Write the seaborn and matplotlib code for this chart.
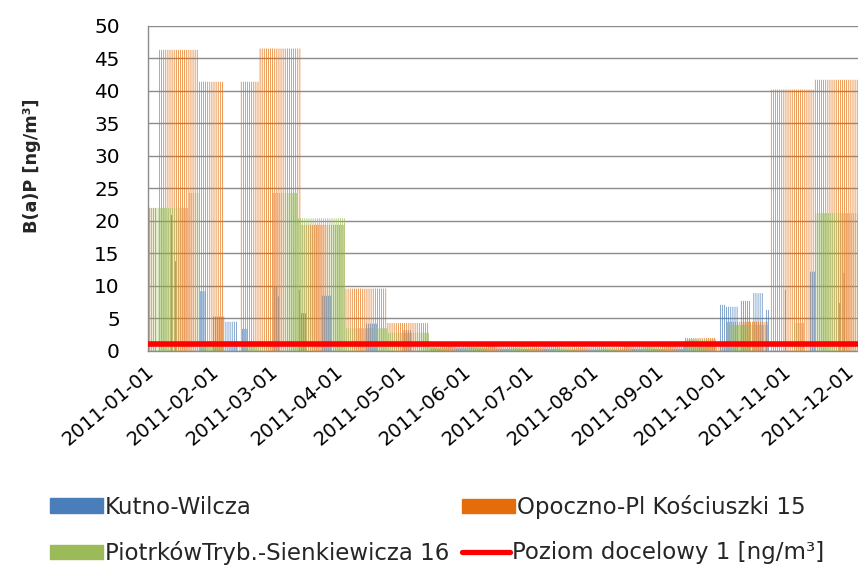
import pandas as pd
import matplotlib
matplotlib.use("Agg")
import matplotlib.pyplot as plt
import matplotlib.transforms as mtransforms
from matplotlib.patches import Patch
from matplotlib.lines import Line2D
import seaborn as sns

# B(a)P results per station: sampling periods (start, end inclusive) and value [ng/m3]
kutno_start = ["2011-01-12", "2011-01-14", "2011-01-26", "2011-02-01", "2011-02-07", "2011-02-15",
               "2011-03-02", "2011-03-04", "2011-03-14", "2011-03-15", "2011-03-25", "2011-04-15",
               "2011-05-03", "2011-05-16", "2011-06-16", "2011-07-16", "2011-08-16", "2011-09-14",
               "2011-10-01", "2011-10-04", "2011-10-11", "2011-10-17", "2011-10-23", "2011-11-01",
               "2011-11-13", "2011-11-27", "2011-11-29"]
kutno_end = ["2011-01-12", "2011-01-14", "2011-01-28", "2011-02-06", "2011-02-12", "2011-02-17",
             "2011-03-03", "2011-03-04", "2011-03-14", "2011-03-17", "2011-03-29", "2011-04-20",
             "2011-05-06", "2011-06-15", "2011-07-15", "2011-08-15", "2011-09-13", "2011-09-28",
             "2011-10-03", "2011-10-09", "2011-10-15", "2011-10-21", "2011-10-24", "2011-11-01",
             "2011-11-15", "2011-11-27", "2011-11-29"]
kutno_value = [20.9, 13.8, 9.2, 5.3, 4.5, 3.4,
               9.9, 8.4, 9.4, 5.8, 8.5, 4.2,
               3.2, 0.4, 0.3, 0.2, 0.3, 1.2,
               7.1, 6.8, 7.7, 8.9, 6.3, 9.4,
               12.2, 7.4, 12.0]

opoczno_start = ["2011-01-01", "2011-01-06", "2011-01-25", "2011-02-14", "2011-02-23", "2011-03-15",
                 "2011-04-05", "2011-04-25", "2011-05-15", "2011-06-16", "2011-07-16", "2011-08-16",
                 "2011-09-14", "2011-09-29", "2011-10-04", "2011-10-25", "2011-11-15"]
opoczno_end = ["2011-01-04", "2011-01-24", "2011-02-05", "2011-02-22", "2011-03-14", "2011-04-04",
               "2011-04-24", "2011-05-14", "2011-06-15", "2011-07-15", "2011-08-15", "2011-09-13",
               "2011-09-28", "2011-10-03", "2011-10-23", "2011-11-14", "2011-12-15"]
opoczno_value = [22.0, 46.3, 41.4, 41.4, 46.5, 19.4,
                 9.6, 4.3, 0.9, 0.7, 0.6, 0.8,
                 2.0, 1.2, 4.5, 40.2, 41.7]

piotrkow_start = ["2011-01-01", "2011-01-20", "2011-01-25", "2011-03-01", "2011-03-13", "2011-04-05",
                  "2011-04-25", "2011-05-15", "2011-06-16", "2011-07-16", "2011-08-16", "2011-09-14",
                  "2011-10-04", "2011-11-05", "2011-11-15"]
piotrkow_end = ["2011-01-19", "2011-01-24", "2011-02-28", "2011-03-12", "2011-04-04", "2011-04-24",
                "2011-05-14", "2011-06-15", "2011-07-15", "2011-08-15", "2011-09-13", "2011-09-28",
                "2011-10-23", "2011-11-09", "2011-12-15"]
piotrkow_value = [22.0, 24.3, 1.5, 24.3, 20.4, 3.5,
                  2.8, 0.6, 0.5, 0.4, 0.6, 1.8,
                  4.0, 4.3, 21.2]

target_level = 1.0  # poziom docelowy [ng/m3]

station_names = ["Kutno-Wilcza", "Opoczno-Pl Kościuszki 15", "PiotrkówTryb.-Sienkiewicza 16"]
station_colors = ["#4A7EBB", "#E46C0A", "#9BBB59"]
target_label = "Poziom docelowy 1 [ng/m³]"
year_start = pd.Timestamp("2011-01-01")
month_starts = pd.date_range("2011-01-01", "2011-12-01", freq="MS")
y_ticks = list(range(0, 55, 5))


def expand_periods(name, starts, ends, values):
    # one row per day of each sampling period
    rows = []
    for s, e, v in zip(starts, ends, values):
        for d in pd.date_range(s, e, freq="D"):
            rows.append({"day": (d - year_start).days, "station": name, "value": v})
    return rows


rows = (expand_periods(station_names[0], kutno_start, kutno_end, kutno_value)
        + expand_periods(station_names[1], opoczno_start, opoczno_end, opoczno_value)
        + expand_periods(station_names[2], piotrkow_start, piotrkow_end, piotrkow_value))
df = pd.DataFrame(rows)

sns.set_theme(style="white")
plt.rcParams["font.family"] = ["DejaVu Sans"]

fig = plt.figure(figsize=(8.58, 5.68), dpi=100)
ax = fig.add_axes([148 / 858, 217 / 568, 710 / 858, 325.2 / 568])

sns.barplot(data=df, x="day", y="value", hue="station", hue_order=station_names,
            palette=station_colors, saturation=1, native_scale=True, width=0.95, dodge=True,
            errorbar=None, legend=False, ax=ax)
# thin bars: no edges, no pixel snapping
for p in ax.patches:
    p.set_edgecolor("none")
    p.set_linewidth(0)
    p.set_snap(False)

ax.axhline(target_level, color="#FF0000", linewidth=4.0, zorder=5)

# axes styling (Excel look)
grid_col = "#8C8C8C"
ax.set_ylim(0, 50)
ax.set_yticks(y_ticks)
ax.yaxis.grid(True, color=grid_col, linewidth=1.0)
ax.xaxis.grid(False)
ax.set_axisbelow(True)
for side in ["top", "right"]:
    ax.spines[side].set_visible(False)
for side in ["left", "bottom"]:
    ax.spines[side].set_color(grid_col)
    ax.spines[side].set_linewidth(1.0)

month_pos = [(m - year_start).days - 0.5 for m in month_starts]
ax.set_xticks(month_pos)
ax.set_xticklabels([m.strftime("%Y-%m-%d") for m in month_starts])
ax.set_xlim(-0.5, 338.4)
ax.tick_params(axis="both", direction="out", length=4.3, width=1.0, color=grid_col,
               labelcolor="#000000")
ax.tick_params(axis="y", labelsize=14.4, pad=16)
ax.tick_params(axis="x", labelsize=14, pad=9)
offset = mtransforms.ScaledTranslation(4 / 100, 0, fig.dpi_scale_trans)
for lab in ax.get_xticklabels():
    lab.set_rotation(40)
    lab.set_ha("right")
    lab.set_va("center")
    lab.set_rotation_mode("anchor")
    lab.set_transform(lab.get_transform() + offset)

ax.set_xlabel("")
ax.set_ylabel("B(a)P [ng/m³]", fontsize=12.7, fontweight="bold")
ax.yaxis.set_label_coords(-0.151, 0.57)

# legend: Excel-like flow, two rows
entries = [
    (Patch(color=station_colors[0]), station_names[0], 50, 507, 2.3),
    (Patch(color=station_colors[1]), station_names[1], 462, 507, 2.3),
    (Patch(color=station_colors[2]), station_names[2], 50, 553, 2.3),
    (Line2D([], [], color="#FF0000", linewidth=3.8), target_label, 462, 553, 2.1),
]
for handle, label, px, py, hl in entries:
    fig.legend(handles=[handle], labels=[label], loc="center left",
               bbox_to_anchor=(px / 858, 1 - py / 568), frameon=False,
               fontsize=16.5, handlelength=hl, handleheight=0.6, handletextpad=0.1,
               borderpad=0, borderaxespad=0)

plt.savefig("out.png", dpi=100)
